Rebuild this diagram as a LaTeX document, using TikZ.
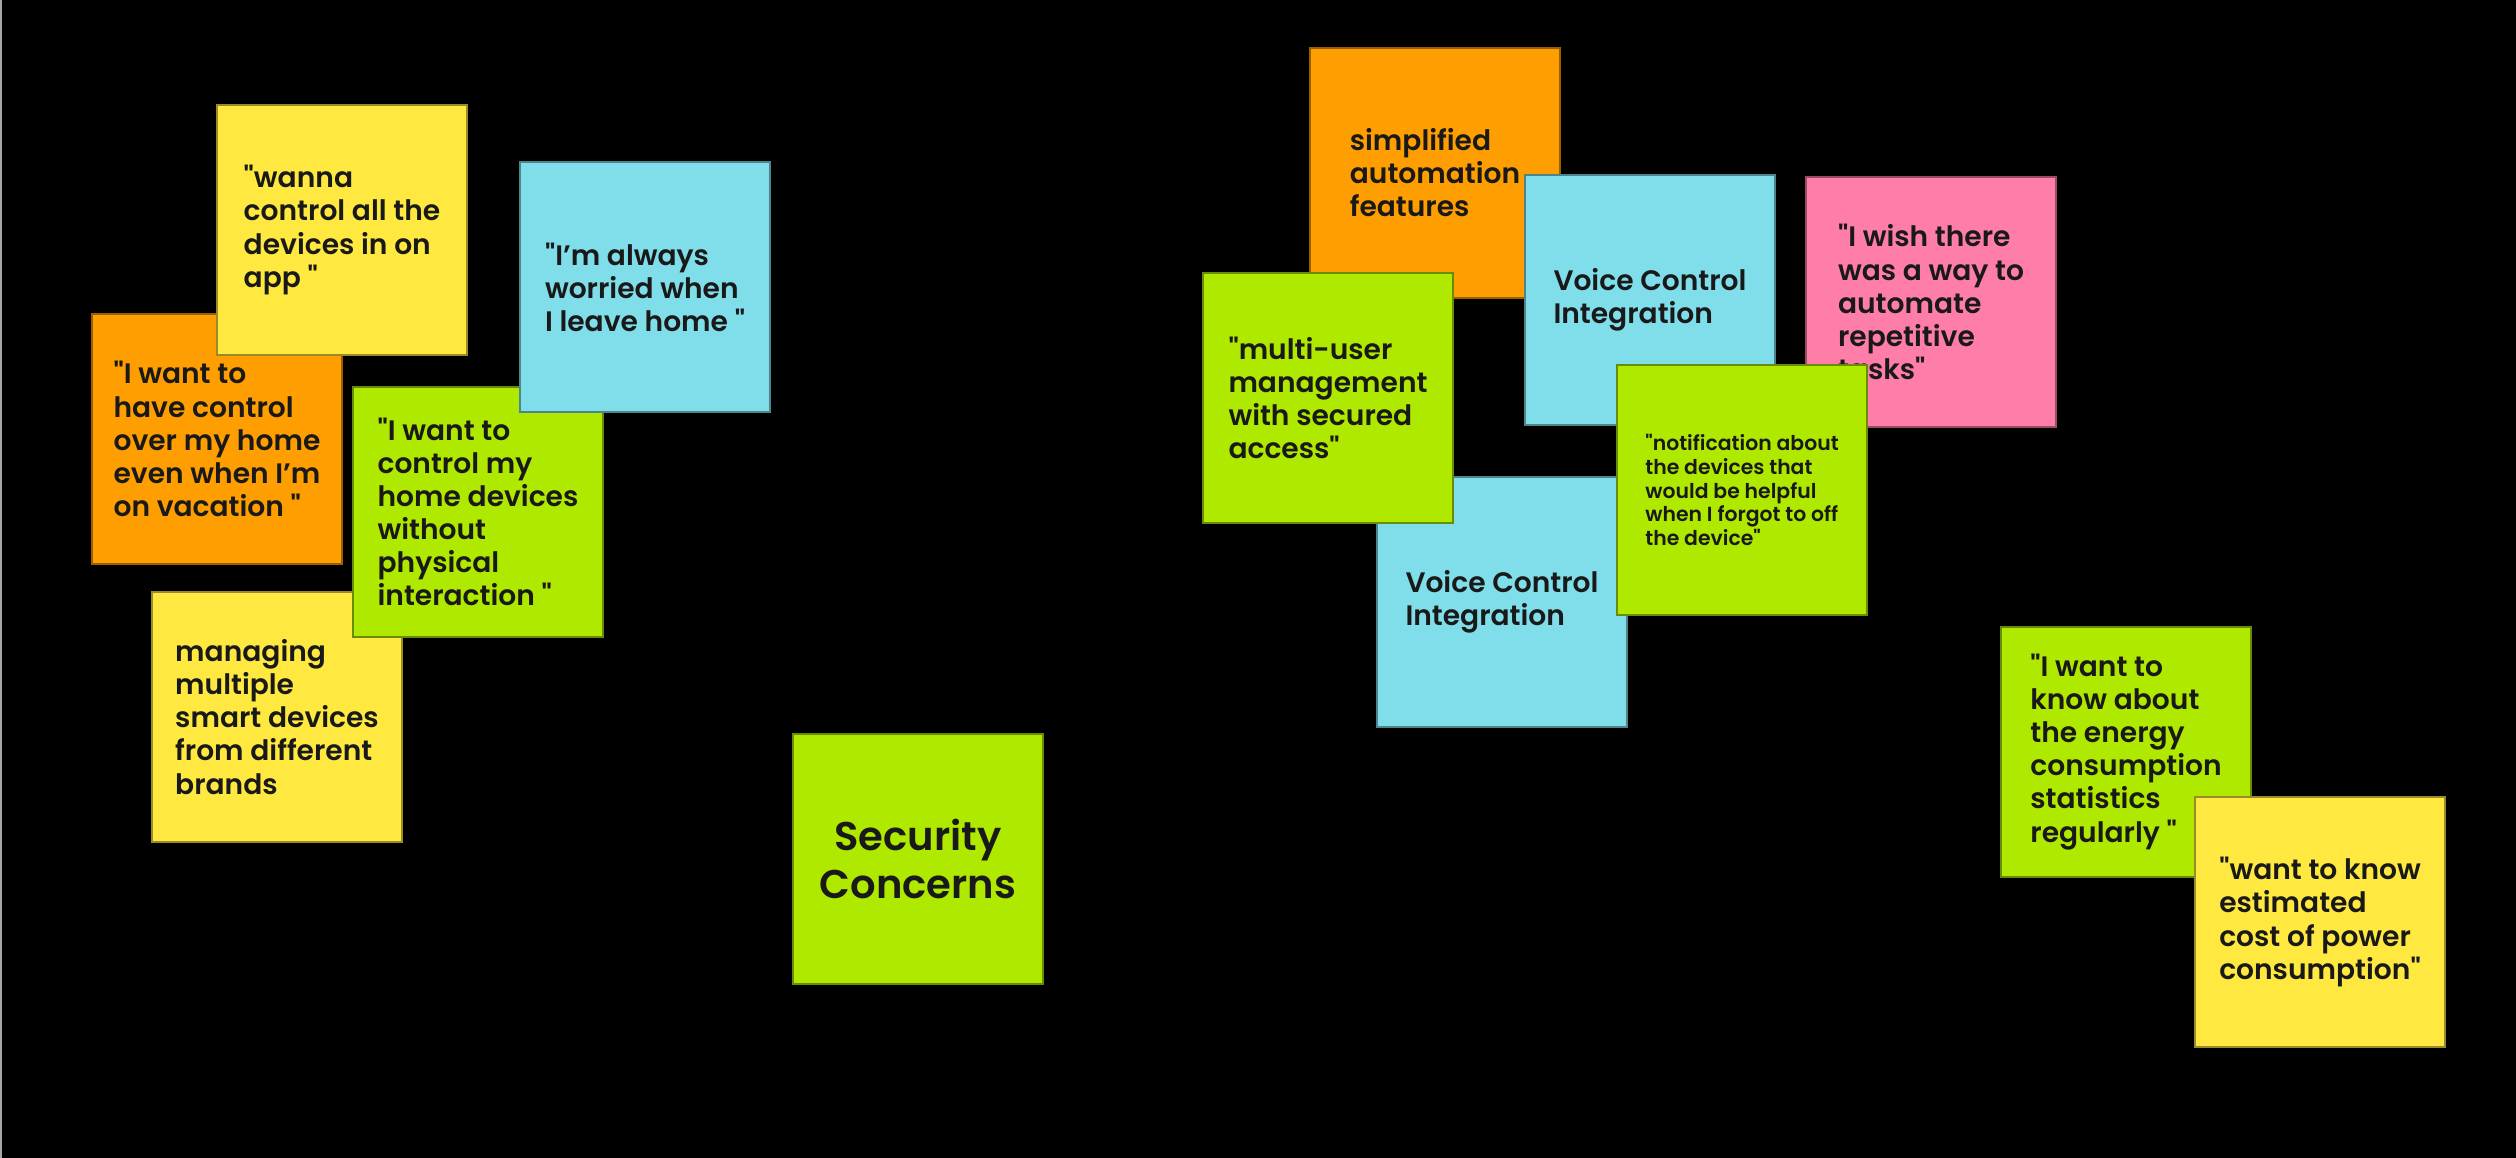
\documentclass[tikz,border=0pt]{standalone}
\usepackage{fontspec}
\setmainfont{Poppins}[UprightFont={* SemiBold}, Ligatures=TeXOff]
\definecolor{stickyyellow}{RGB}{255,233,64}
\definecolor{stickyorange}{RGB}{255,158,0}
\definecolor{stickygreen}{RGB}{175,233,0}
\definecolor{stickyblue}{RGB}{127,222,234}
\definecolor{stickypink}{RGB}{255,126,169}

\begin{document}
\begin{tikzpicture}[
    x=0.01cm, y=-0.01cm,
    note/.style={
        rectangle,
        minimum width=2.5cm,
        minimum height=2.5cm,
        inner sep=0pt,
        align=left,
        text=black!90,
        font=\fontsize{8}{9.4}\selectfont,
        line width=0.4pt
    },
    yellownote/.style={note, fill=stickyyellow, draw=stickyyellow!60!black},
    orangenote/.style={note, fill=stickyorange, draw=stickyorange!60!black},
    greennote/.style={note, fill=stickygreen, draw=stickygreen!60!black},
    bluenote/.style={note, fill=stickyblue, draw=stickyblue!60!black},
    pinknote/.style={note, fill=stickypink, draw=stickypink!60!black}
]

    % --- BOARD ---
    \fill[black] (0,0) rectangle (2516,1158);
    \fill[gray!70] (0,0) rectangle (2,1158);

    % --- LEFT CLUSTER ---
    \node[orangenote] (vacation) at (217,439) {"I want to\\have control\\over my home\\even when I’m\\on vacation "};
    \node[yellownote] (oneapp) at (342,230) {"wanna\\control all the\\devices in on\\app "};
    \node[yellownote] (brands) at (277,717) {managing\\multiple\\smart devices\\from different\\brands};
    \node[greennote] (nophysical) at (478,512) {"I want to\\control my\\home devices\\without\\physical\\interaction "};
    \node[bluenote] (worried) at (645,287) {"I’m always\\worried when\\I leave home "};

    % --- CENTRE ---
    \node[greennote, align=center, font=\fontsize{11.4}{13.4}\selectfont] (security) at (918,859) {Security\\Concerns};

    % --- RIGHT CLUSTER ---
    \node[orangenote] (automation) at (1435,173) {simplified\\automation\\features};
    \node[bluenote] (voicetop) at (1650,300) {Voice Control\\Integration};
    \node[pinknote] (repetitive) at (1931,302) {"I wish there\\was a way to\\automate\\repetitive\\tasks"};
    \node[bluenote] (voicebottom) at (1502,602) {Voice Control\\Integration};
    \node[greennote] (multiuser) at (1328,398) {"multi-user\\management\\with secured\\access"};
    \node[greennote, font=\fontsize{5.8}{6.8}\selectfont] (notify) at (1742,490) {"notification about\\the devices that\\would be helpful\\when I forgot to off\\the device"};

    % --- ENERGY ---
    \node[greennote] (energy) at (2126,752) {"I want to\\know about\\the energy\\consumption\\statistics\\regularly "};
    \node[yellownote] (cost) at (2320,922) {"want to know\\estimated\\cost of power\\consumption"};

\end{tikzpicture}
\end{document}
